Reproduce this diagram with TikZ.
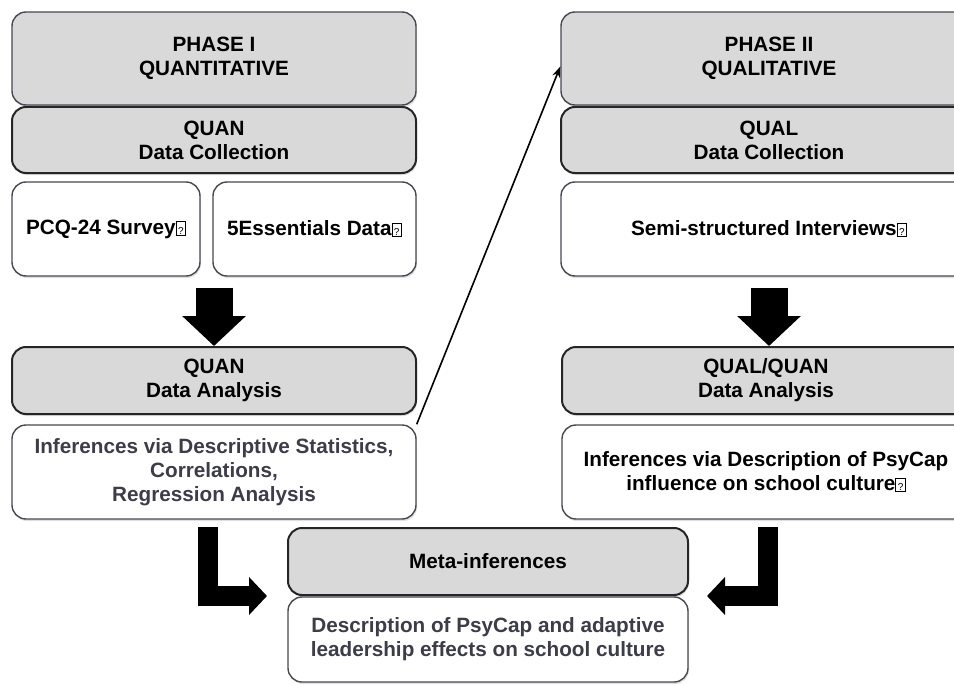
\documentclass[tikz,border=0pt]{standalone}
\usepackage{fontspec}
\setmainfont{Liberation Sans}
\usepackage{xcolor}
\usepackage{tikz}
\usetikzlibrary{arrows.meta,shadows}

\definecolor{boxgray}{HTML}{D9D9D9}
\definecolor{edgegray}{HTML}{484852}
\definecolor{textgray}{HTML}{3C3C4A}
\newcommand{\qmark}{{\setlength{\fboxsep}{0pt}\setlength{\fboxrule}{0.6pt}\fbox{\makebox[9pt]{\rule[-0.5pt]{0pt}{13pt}\fontsize{10}{10}\mdseries\selectfont ?}}}}

\begin{document}
\begin{tikzpicture}[x=1pt,y=-1pt,>={Stealth[length=11pt,width=8pt]},
  phasebox/.style={draw=edgegray,fill=boxgray,line width=1.4pt,rounded corners=14pt,align=center,font=\bfseries\fontsize{20.7}{24}\selectfont,drop shadow={shadow xshift=1pt,shadow yshift=-2pt,opacity=0.25}},
  stagebox/.style={phasebox,draw=black!85,line width=2pt},
  itembox/.style={phasebox,fill=white},
  bigarrow/.style={line width=37pt,-{Triangle[width=62pt,length=30pt]}},
  elbowarrow/.style={line width=20pt,line join=miter,-{Triangle[width=37pt,length=18pt]}}]
  \clip (0,0) rectangle (954,685);
  \useasboundingbox (0,0) rectangle (954,685);
  % phase I
  \node[phasebox,minimum width=404pt,minimum height=93pt] (ph1) at (214,58.5) {PHASE I\\QUANTITATIVE};
  \node[stagebox,minimum width=404pt,minimum height=66pt] (ncol) at (214,140) {QUAN\\Data Collection};
  \node[itembox,minimum width=188pt,minimum height=94pt] (survey) at (106,229) {PCQ-24 Survey\qmark};
  \node[itembox,minimum width=203pt,minimum height=94pt] (essent) at (314.5,229) {5Essentials Data\qmark};
  \node[stagebox,minimum width=404pt,minimum height=67pt] (nanl) at (214,380.5) {QUAN\\Data Analysis};
  \node[itembox,minimum width=404pt,minimum height=94pt,text=textgray] (ninf) at (214,472) {Inferences via Descriptive Statistics,\\Correlations,\\Regression Analysis};
  % phase II
  \node[phasebox,minimum width=416pt,minimum height=93pt] (ph2) at (769,58.5) {PHASE II\\QUALITATIVE};
  \node[stagebox,minimum width=416pt,minimum height=66pt] (lcol) at (769,140) {QUAL\\Data Collection};
  \node[itembox,minimum width=416pt,minimum height=94pt] (interv) at (769,229) {Semi-structured Interviews\qmark};
  \node[stagebox,minimum width=408pt,minimum height=67pt] (lanl) at (766,380.5) {QUAL/QUAN\\Data Analysis};
  \node[itembox,minimum width=408pt,minimum height=94pt] (linf) at (766,472) {Inferences via Description of PsyCap\\influence on school culture\qmark};
  % meta
  \node[stagebox,minimum width=400pt,minimum height=67pt] (meta) at (488,561.5) {Meta-inferences};
  \node[itembox,minimum width=400pt,minimum height=85pt,text=textgray] (desc) at (488,639.5) {Description of PsyCap and adaptive\\leadership effects on school culture};
  % arrows
  \draw[bigarrow] ([yshift=-11pt]survey.south -| nanl.north) -- (nanl.north);
  \draw[bigarrow] ([yshift=-11pt]interv.south) -- (interv.south |- lanl.north);
  \draw[->,line width=1.6pt] (ninf.north east) -- ([yshift=-8pt]ph2.west);
  \draw[elbowarrow] ([xshift=-79pt]meta.north west) |- ([xshift=-20pt]meta.south west);
  \draw[elbowarrow] ([xshift=79pt]meta.north east) |- ([xshift=18pt]meta.south east);
\end{tikzpicture}
\end{document}
